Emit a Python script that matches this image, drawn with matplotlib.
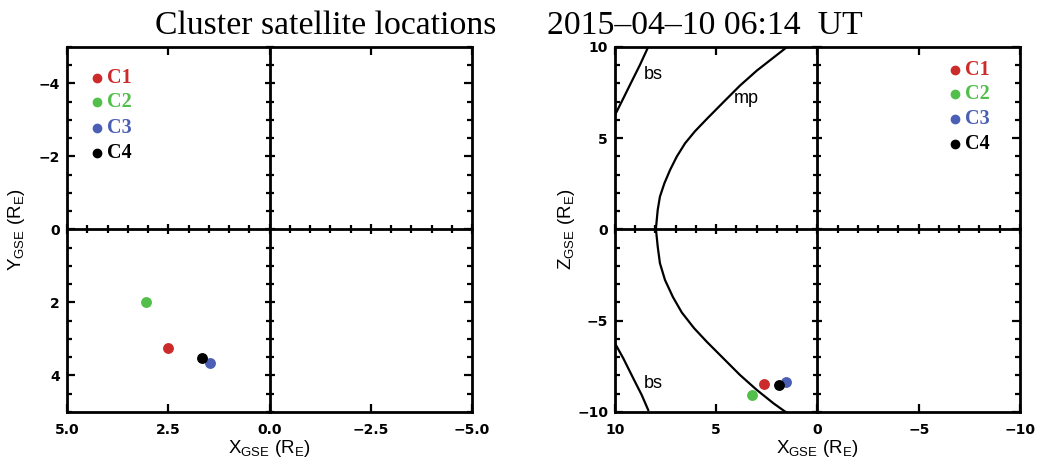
import numpy as np
import matplotlib
matplotlib.use('Agg')
import matplotlib.pyplot as plt
from matplotlib.ticker import MultipleLocator

plt.rcParams['font.family'] = 'Liberation Sans'
plt.rcParams['mathtext.default'] = 'regular'

# Cluster spacecraft positions (R_E)
sc_names = ['C1', 'C2', 'C3', 'C4']
sc_colors = ['#cc2b2b', '#52bf4a', '#4b5fb4', '#000000']
xy_x = [2.50, 3.05, 1.47, 1.67]
xy_y = [3.25, 1.98, 3.67, 3.51]
xz_x = [2.64, 3.22, 1.56, 1.90]
xz_z = [-8.47, -9.07, -8.34, -8.52]

# magnetopause in the X-Z plane, north end to south end
mp_x = [1.50, 3.00, 3.83, 4.65, 5.47, 6.05, 6.54, 6.95, 7.28, 7.56, 7.78, 7.89, 7.98,
        7.89, 7.78, 7.53, 7.14, 6.70, 6.10, 5.47, 4.65, 3.83, 3.00, 2.18, 1.60, 1.56]
mp_z = [10.0, 8.70, 7.88, 6.97, 6.05, 5.38, 4.72, 3.99, 3.26, 2.53, 1.80, 1.07, 0.03,
        -0.94, -1.85, -2.77, -3.70, -4.55, -5.40, -6.15, -7.06, -7.97, -8.79, -9.52, -9.98, -10.0]
# bow shock, north and south branches
bsn_x = [8.36, 8.77, 9.26, 9.67, 10.0]
bsn_z = [10.0, 9.01, 7.92, 7.00, 6.27]
bss_x = [10.0, 9.59, 9.10, 8.68, 8.36]
bss_z = [-6.24, -7.06, -8.15, -9.07, -9.89]

fig = plt.figure(figsize=(10.39, 4.68), dpi=100)

def make_panel(rect, xlim, ylim, xmaj, xmin, ymaj, ymin):
    ax = fig.add_axes(rect)
    ax.set_xlim(*xlim)
    ax.set_ylim(*ylim)
    ax.xaxis.set_major_locator(MultipleLocator(xmaj))
    ax.xaxis.set_minor_locator(MultipleLocator(xmin))
    ax.yaxis.set_major_locator(MultipleLocator(ymaj))
    ax.yaxis.set_minor_locator(MultipleLocator(ymin))
    for s in ax.spines.values():
        s.set_linewidth(2.0)
    ax.tick_params(which='both', direction='in', top=True, right=True, width=1.6)
    ax.tick_params(which='major', length=6)
    ax.tick_params(which='minor', length=3.5)
    ax.tick_params(axis='x', which='minor', length=0)
    ax.tick_params(axis='x', which='major', pad=8, labelsize=10)
    ax.tick_params(axis='y', which='major', pad=5, labelsize=10)

    # axes through the origin
    cx = fig.add_axes(rect, sharex=ax, sharey=ax)
    cx.patch.set_visible(False)
    cx.spines['top'].set_visible(False)
    cx.spines['right'].set_visible(False)
    cx.spines['bottom'].set_position(('data', 0))
    cx.spines['left'].set_position(('data', 0))
    cx.spines['bottom'].set_linewidth(2.0)
    cx.spines['left'].set_linewidth(2.0)
    cx.tick_params(which='both', direction='inout', width=1.6,
                   labelbottom=False, labelleft=False)
    cx.tick_params(which='major', length=7)
    cx.tick_params(which='minor', length=6)
    return ax

def legend(ax, x0, ys):
    for name, c, y in zip(sc_names, sc_colors, ys):
        ax.plot(x0, y, 'o', color=c, ms=6, transform=ax.transAxes, clip_on=False)
        ax.text(x0 + 0.025, y, name, color=c, transform=ax.transAxes,
                family='Liberation Serif', weight='bold', fontsize=14.5, va='center')

# X-Y plane
ax1 = make_panel([0.0645, 0.1197, 0.3898, 0.78], (5, -5), (5, -5), 2.5, 0.5, 2, 0.5)
for i in range(4):
    ax1.plot(xy_x[i], xy_y[i], 'o', color=sc_colors[i], ms=6.8, zorder=3)
legend(ax1, 0.073, [0.916, 0.849, 0.779, 0.709])
ax1.set_xlabel('X$_{GSE}$ (R$_E$)', fontsize=13.5)
ax1.set_ylabel('Y$_{GSE}$ (R$_E$)', fontsize=13.5)
ax1.xaxis.set_label_coords(0.5, -0.072)
ax1.yaxis.set_label_coords(-0.10, 0.5)

# X-Z plane
ax2 = make_panel([0.5919, 0.1197, 0.3898, 0.78], (10, -10), (-10, 10), 5, 1, 5, 1)
ax2.plot(mp_x, mp_z, color='black', lw=1.6, solid_joinstyle='round')
ax2.plot(bsn_x, bsn_z, color='black', lw=1.6, solid_joinstyle='round')
ax2.plot(bss_x, bss_z, color='black', lw=1.6, solid_joinstyle='round')
ax2.text(8.11, 8.47, 'bs', fontsize=13, ha='center', va='center')
ax2.text(8.11, -8.43, 'bs', fontsize=13, ha='center', va='center')
ax2.text(3.50, 7.19, 'mp', fontsize=13, ha='center', va='center')
for i in range(4):
    ax2.plot(xz_x[i], xz_z[i], 'o', color=sc_colors[i], ms=6.8, zorder=3)
legend(ax2, 0.840, [0.937, 0.870, 0.802, 0.733])
ax2.set_xlabel('X$_{GSE}$ (R$_E$)', fontsize=13.5)
ax2.set_ylabel('Z$_{GSE}$ (R$_E$)', fontsize=13.5)
ax2.xaxis.set_label_coords(0.5, -0.072)
ax2.yaxis.set_label_coords(-0.095, 0.5)

for ax in (ax1, ax2):
    plt.setp(ax.get_xticklabels() + ax.get_yticklabels(),
             family='DejaVu Sans', fontweight='bold')

fig.text(155 / 1039, 1 - 34 / 468, 'Cluster satellite locations',
         family='Liberation Serif', fontsize=24.3, va='baseline', ha='left')
fig.text(547 / 1039, 1 - 34 / 468, '2015\u201304\u201310 06:14  UT',
         family='Liberation Serif', fontsize=24.3, va='baseline', ha='left')

fig.savefig('out.png', dpi=100)
